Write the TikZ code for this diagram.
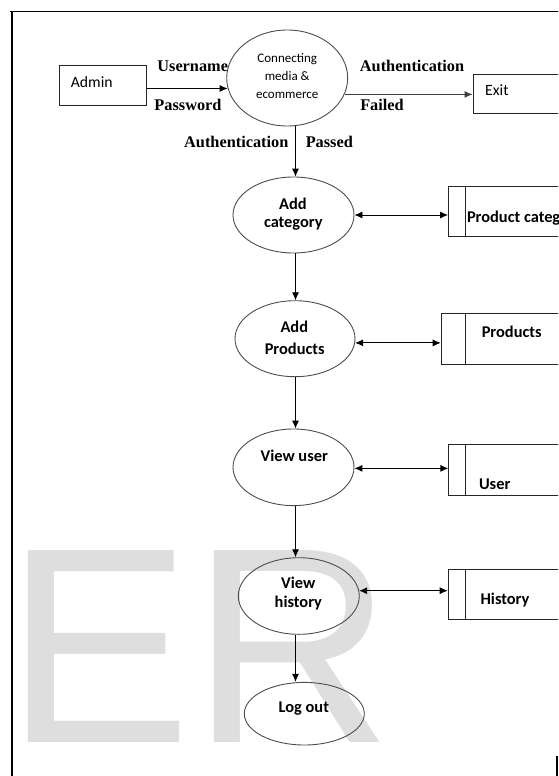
\documentclass[tikz,border=0pt]{standalone}
\usepackage{fontspec}
\setmainfont{Liberation Serif}
\newfontfamily\calib{Carlito}
\newfontfamily\arialwm{Liberation Sans}
\usetikzlibrary{arrows.meta,shapes.geometric}
\begin{document}
\begin{tikzpicture}[x=1pt,y=-1pt,
  proc/.style={draw=black!70, line width=0.9pt, ellipse, inner sep=0pt},
  extbox/.style={draw=black!85, line width=0.8pt, rectangle, inner sep=0pt},
  store/.style={draw=black!85, line width=0.8pt, rectangle, inner sep=0pt, minimum width=200pt, anchor=west},
  storeline/.style={draw=black!85, line width=0.8pt},
  arr/.style={-{Latex[length=8pt,width=7pt]}, line width=0.9pt},
  dar/.style={{Latex[length=8pt,width=7pt]}-{Latex[length=8pt,width=7pt]}, line width=0.9pt},
  lbl/.style={font=\bfseries\fontsize{16.3}{18}\selectfont, inner sep=0pt, anchor=base},
  ptxt/.style={font=\calib\bfseries\fontsize{16.4}{20}\selectfont, inner sep=0pt, anchor=base},
  etxt/.style={font=\calib\fontsize{15.7}{18}\selectfont, inner sep=0pt, anchor=base west},
  ctxt/.style={font=\calib\fontsize{13}{15}\selectfont, inner sep=0pt, anchor=base},
]
\clip (0,0) rectangle (558,776);
% watermark
\node[anchor=base west, inner sep=0pt, text=black!13, font=\arialwm\fontsize{279}{279}\selectfont] (wm) at (5.2,742.7) {ER};
% frame
\draw[line width=1.3pt] (10,11.7) -- (560,11.7);
\draw[line width=2pt] (11.5,11) -- (11.5,780);
\draw[line width=1.8pt] (557.3,756) -- (557.3,780);

% external entities
\node[extbox, minimum width=87.4pt, minimum height=39.6pt] (admin) at (103,85.5) {};
\node[etxt] (admint) at (70.7,87.3) {Admin};
\node[extbox, minimum width=120pt, minimum height=39.3pt, anchor=west] (exit) at (472.7,93.7) {};
\node[etxt] (exitt) at (485,95.7) {Exit};

% main process
\node[proc, minimum width=121pt, minimum height=96pt] (conn) at (287.2,78) {};
\node[ctxt] (c1) at (287.2,62.6) {Connecting};
\node[ctxt] (c2) at (287.2,80.3) {media \&};
\node[ctxt] (c3) at (287.2,98) {ecommerce};

% labels
\node[lbl] (l1) at (192.7,71.7) {Username};
\node[lbl] (l2) at (188,110) {Password};
\node[lbl] (l3) at (412,71.2) {Authentication};
\node[lbl] (l4) at (382,110) {Failed};
\node[lbl] (l5) at (236.3,147.2) {Authentication};
\node[lbl] (l6) at (329.3,147.2) {Passed};

% processes
\node[proc, minimum width=121pt, minimum height=76pt] (addcat) at (293.5,215) {};
\node[ptxt] (t1) at (293,209) {Add};
\node[ptxt] (t2) at (293.3,227.5) {category};
\node[proc, minimum width=120pt, minimum height=76pt] (addprod) at (295,338.7) {};
\node[ptxt] (t3) at (294.3,332) {Add};
\node[ptxt] (t4) at (294.7,354.6) {Products};
\node[proc, minimum width=121pt, minimum height=76.6pt] (vuser) at (293.5,467.3) {};
\node[ptxt] (t5) at (294.3,461) {View user};
\node[proc, minimum width=121pt, minimum height=76.6pt] (vhist) at (298.8,596) {};
\node[ptxt] (t6) at (298.3,588) {View};
\node[ptxt] (t7) at (298.3,607.5) {history};
\node[proc, minimum width=120pt, minimum height=62.6pt] (logout) at (304.3,713.7) {};
\node[ptxt] (t8) at (303.8,712) {Log out};

% data stores
\node[store, minimum height=50pt] (pc) at (448,211) {};
\draw[storeline] ([xshift=17.7pt]pc.north west) -- ([xshift=17.7pt]pc.south west);
\node[ptxt, anchor=base west] (s1) at (466.8,222.7) {Product category};
\node[store, minimum height=50.7pt] (prod) at (440.7,338.7) {};
\draw[storeline] ([xshift=25pt]prod.north west) -- ([xshift=25pt]prod.south west);
\node[ptxt] (s2) at (511.7,337) {Products};
\node[store, minimum height=51.4pt] (user) at (448.3,470) {};
\draw[storeline] ([xshift=17.4pt]user.north west) -- ([xshift=17.4pt]user.south west);
\node[ptxt] (s3) at (494.7,489.6) {User};
\node[store, minimum height=50.3pt] (hist) at (447.7,594.2) {};
\draw[storeline] ([xshift=18pt]hist.north west) -- ([xshift=18pt]hist.south west);
\node[ptxt] (s4) at (505,604.6) {History};

% flows
\draw[arr] (admin.east |- conn.190) -- (conn.190);
\draw[arr, draw=black!75, fill=black!75, line width=1.3pt] (conn.-16) -- (conn.-16 -| exit.west);
\coordinate (ax) at (295.5,0);
\draw[arr] (ax |- conn.south) -- (ax |- addcat.north);
\draw[arr] (ax |- addcat.south) -- (ax |- addprod.north);
\draw[arr] (ax |- addprod.south) -- (ax |- vuser.north);
\draw[arr] (ax |- vuser.south) -- (ax |- vhist.north);
\draw[arr] (ax |- vhist.south) -- (ax |- logout.north);

\draw[dar] (addcat.east) -- (addcat.east -| pc.west);
\draw[dar] (addprod.-4.4) -- (addprod.-4.4 -| prod.west);
\draw[dar] (vuser.-1.6) -- (vuser.-1.6 -| user.west);
\draw[dar] (vhist.5.4) -- (vhist.5.4 -| hist.west);
\end{tikzpicture}
\end{document}
